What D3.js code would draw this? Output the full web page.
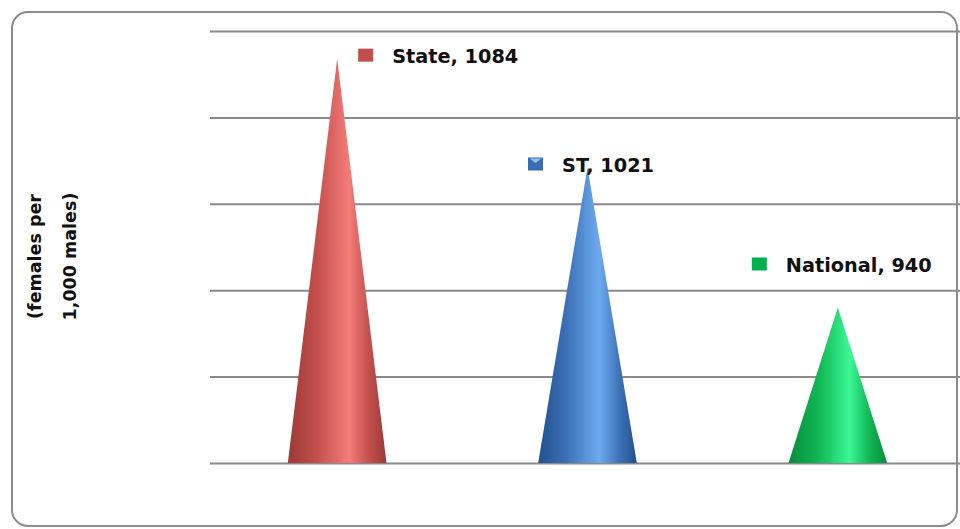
<!DOCTYPE html>
<html>
<head>
<meta charset="utf-8">
<script src="https://cdn.jsdelivr.net/npm/d3@7"></script>
<style>
  html, body { margin: 0; padding: 0; background: #fff; }
  svg { display: block; }
</style>
</head>
<body>
<svg id="chart" width="960" height="529"></svg>
<script>
// Sex ratio (females per 1,000 males)
const categories = ["State", "ST", "National"];
const values = [1084, 1021, 940];
const yTicks = [850, 900, 950, 1000, 1050, 1100];
const axisTitle = ["(females per", "1,000 males)"];

// where each data label sits, relative to its cone tip
const labelOffsets = [[21, 4.5], [-59.5, 4.5], [-86, -35.5]];

// cone shading per series
const palettes = [
  { edge: "#9c3937", mid: "#c4504d", hi: "#f47c79", key: "#c0504d" },
  { edge: "#23508e", mid: "#3d72b8", hi: "#6eaaf0", key: "#3b6db2" },
  { edge: "#078c3f", mid: "#10b653", hi: "#3cf795", key: "#00b050" }
];

const svg = d3.select("#chart");
const plot = { left: 212, right: 963, top: 31, bottom: 463, gridLeft: 210, gridRight: 960 };
const FONT = "'DejaVu Sans', sans-serif";

// chart frame
svg.append("rect")
  .attr("x", 12).attr("y", 12)
  .attr("width", 945).attr("height", 514)
  .attr("rx", 16).attr("ry", 16)
  .attr("fill", "#fff")
  .attr("stroke", "#8c8c8c").attr("stroke-width", 2);

const x = d3.scaleBand().domain(categories).range([plot.left, plot.right]).padding(0);
const y = d3.scaleLinear().domain([850, 1100]).range([plot.bottom, plot.top]);

// gridlines via the axis generator
const grid = svg.append("g")
  .attr("transform", `translate(${plot.gridLeft},0)`)
  .call(d3.axisLeft(y).tickValues(yTicks).tickSize(-(plot.gridRight - plot.gridLeft)).tickFormat(""));
grid.select(".domain").remove();
grid.selectAll(".tick line").attr("stroke", "#8a8a8a").attr("stroke-width", 2);

// gradients for the cones
const defs = svg.append("defs");
palettes.forEach((p, i) => {
  const g = defs.append("linearGradient")
    .attr("id", "cone" + i)
    .attr("x1", "0").attr("y1", "0").attr("x2", "1").attr("y2", "0");
  [[0, p.edge], [0.3, p.mid], [0.62, p.hi], [0.82, p.mid], [1, p.edge]]
    .forEach(([o, c]) => g.append("stop").attr("offset", o).attr("stop-color", c));
});

const baseHalf = x.bandwidth() * 0.197;
const cxOf = i => x(categories[i]) + x.bandwidth() / 2;

svg.append("g").selectAll("path")
  .data(values)
  .join("path")
  .attr("fill", (d, i) => `url(#cone${i})`)
  .attr("d", (d, i) => {
    const cx = cxOf(i);
    return `M${cx - baseHalf},${y(850)}L${cx},${y(d)}L${cx + baseHalf},${y(850)}Z`;
  });

// data labels with legend keys
const labels = svg.append("g").selectAll("g")
  .data(values)
  .join("g")
  .attr("transform", (d, i) =>
    `translate(${cxOf(i) + labelOffsets[i][0]},${y(d) + labelOffsets[i][1]})`);

labels.append("rect")
  .attr("x", 0).attr("y", -14.5)
  .attr("width", 15).attr("height", 13)
  .attr("fill", (d, i) => palettes[i].key);

// bevelled key for the ST series
labels.filter((d, i) => i === 1)
  .append("path")
  .attr("d", "M1.5,-13.5L13.5,-13.5L7.5,-9Z")
  .attr("fill", "#8ec0f5");

labels.append("text")
  .attr("x", 34).attr("y", 0)
  .attr("font-family", FONT)
  .attr("font-weight", "bold")
  .attr("font-size", 19.3)
  .attr("fill", "#111")
  .text((d, i) => `${categories[i]}, ${d}`);

// axis title
const title = svg.append("text")
  .attr("transform", `translate(0,256.5) rotate(-90)`)
  .attr("text-anchor", "middle")
  .attr("font-family", FONT)
  .attr("font-weight", "bold")
  .attr("font-size", 17.5)
  .attr("fill", "#111");
title.selectAll("tspan")
  .data(axisTitle)
  .join("tspan")
  .attr("x", 0)
  .attr("y", (d, i) => 41 + i * 35)
  .text(d => d);
</script>
</body>
</html>
